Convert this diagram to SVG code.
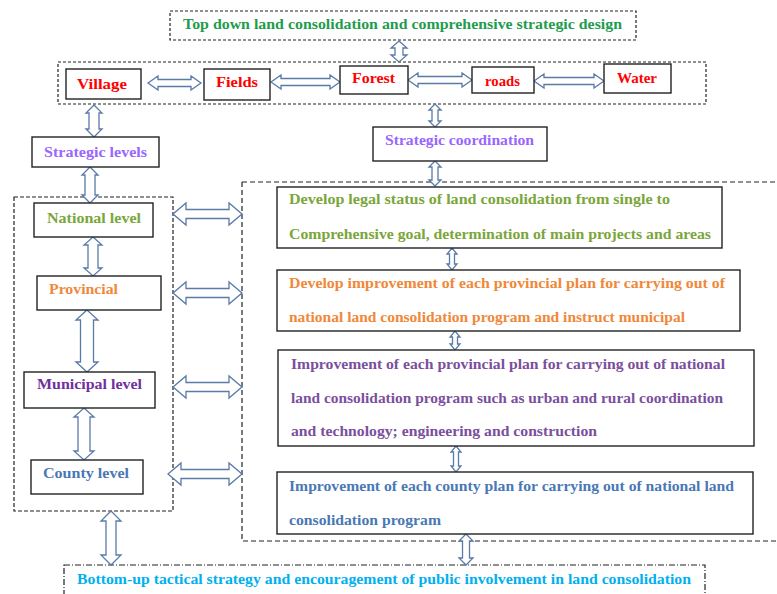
<svg xmlns="http://www.w3.org/2000/svg" width="777" height="594" viewBox="0 0 777 594">
<style>
.bx{fill:#fff;stroke:#222;stroke-width:1.4}
.ct{fill:none;stroke:#222;stroke-width:1.2}
.ar{fill:#fff;stroke:#5a7aa8;stroke-width:1.3;stroke-linejoin:miter}
.lb{font-size:14px}
.rt{font-size:14px}
</style>
<rect width="777" height="594" fill="#fff"/>
<g id="containers">
<rect class="ct" x="170" y="11" width="466" height="29" stroke-dasharray="3,2"/>
<rect class="ct" x="58" y="62" width="648" height="42" stroke-dasharray="3,2"/>
<rect class="ct" x="14" y="197" width="159" height="314" stroke-dasharray="4,2"/>
<path class="ct" d="M242 182 H780 M242 182 V541 H780" stroke-dasharray="5,3"/>
<rect class="ct" x="64" y="565" width="641" height="40" stroke-dasharray="6,2,1,2"/>
</g>
<g id="connectors">
<path class="ar" d="M399 41 L407 48 L403 48 L403 55 L407 55 L399 62 L391 55 L395 55 L395 48 L391 48 Z"/>
<path class="ar" d="M94 105 L102 113 L99 113 L99 129 L102 129 L94 137 L86 129 L89 129 L89 113 L86 113 Z"/>
<path class="ar" d="M90 167 L98 175 L95 175 L95 195 L98 195 L90 203 L82 195 L85 195 L85 175 L82 175 Z"/>
<path class="ar" d="M435 104 L441 110 L438 110 L438 121 L441 121 L435 127 L429 121 L432 121 L432 110 L429 110 Z"/>
<path class="ar" d="M435 161 L441 167 L438 167 L438 180 L441 180 L435 186 L429 180 L432 180 L432 167 L429 167 Z"/>
<path class="ar" d="M93 237 L102 245 L98 245 L98 268 L102 268 L93 276 L84 268 L88 268 L88 245 L84 245 Z"/>
<path class="ar" d="M87 310 L98 320 L93.5 320 L93.5 362 L98 362 L87 372 L76 362 L80.5 362 L80.5 320 L76 320 Z"/>
<path class="ar" d="M84 408 L94 417 L90 417 L90 451 L94 451 L84 460 L74 451 L78 451 L78 417 L74 417 Z"/>
<path class="ar" d="M173 214 L186 203 L186 209.5 L229 209.5 L229 203 L242 214 L229 225 L229 218.5 L186 218.5 L186 225 Z"/>
<path class="ar" d="M173 293 L186 282 L186 288.5 L229 288.5 L229 282 L242 293 L229 304 L229 297.5 L186 297.5 L186 304 Z"/>
<path class="ar" d="M173 387 L186 376 L186 382.5 L229 382.5 L229 376 L242 387 L229 398 L229 391.5 L186 391.5 L186 398 Z"/>
<path class="ar" d="M168 474 L181 463 L181 469.5 L229 469.5 L229 463 L242 474 L229 485 L229 478.5 L181 478.5 L181 485 Z"/>
<path class="ar" d="M148 83 L158 76 L158 79.5 L191 79.5 L191 76 L201 83 L191 90 L191 86.5 L158 86.5 L158 90 Z"/>
<path class="ar" d="M271 82 L281 75 L281 78.5 L330 78.5 L330 75 L340 82 L330 89 L330 85.5 L281 85.5 L281 89 Z"/>
<path class="ar" d="M408 80 L418 73 L418 76.5 L462 76.5 L462 73 L472 80 L462 87 L462 83.5 L418 83.5 L418 87 Z"/>
<path class="ar" d="M534 81 L544 74 L544 77.5 L594 77.5 L594 74 L604 81 L594 88 L594 84.5 L544 84.5 L544 88 Z"/>
<path class="ar" d="M452 248 L457 254 L454.5 254 L454.5 264 L457 264 L452 270 L447 264 L449.5 264 L449.5 254 L447 254 Z"/>
<path class="ar" d="M455 331 L460 337 L457.5 337 L457.5 344 L460 344 L455 350 L450 344 L452.5 344 L452.5 337 L450 337 Z"/>
<path class="ar" d="M456 446 L461 452 L458.5 452 L458.5 466 L461 466 L456 472 L451 466 L453.5 466 L453.5 452 L451 452 Z"/>
<path class="ar" d="M111 511 L121 521 L116 521 L116 555 L121 555 L111 565 L101 555 L106 555 L106 521 L101 521 Z"/>
<path class="ar" d="M466 534 L473 541 L469.5 541 L469.5 558 L473 558 L466 565 L459 558 L462.5 558 L462.5 541 L459 541 Z"/>
</g>
<g font-family="Liberation Serif, DejaVu Serif, serif" font-weight="bold">
<g id="title">
<text x="183" y="29" font-size="15" fill="#1f9c4e" textLength="439" lengthAdjust="spacingAndGlyphs">Top down land consolidation and comprehensive strategic design</text>
</g>
<g id="village">
<rect class="bx" x="66" y="69" width="75" height="30"/>
<text class="lb" x="77" y="89" fill="#f00" textLength="50" lengthAdjust="spacingAndGlyphs">Village</text>
</g>
<g id="fields">
<rect class="bx" x="204" y="69" width="66" height="31"/>
<text class="lb" x="216" y="87" fill="#f00" textLength="42" lengthAdjust="spacingAndGlyphs">Fields</text>
</g>
<g id="forest">
<rect class="bx" x="340" y="66" width="68" height="28"/>
<text class="lb" x="352" y="83" fill="#f00" textLength="43" lengthAdjust="spacingAndGlyphs">Forest</text>
</g>
<g id="roads">
<rect class="bx" x="472" y="67" width="62" height="26"/>
<text class="lb" x="485" y="86" fill="#f00" textLength="35" lengthAdjust="spacingAndGlyphs">roads</text>
</g>
<g id="water">
<rect class="bx" x="604" y="64" width="67" height="29"/>
<text class="lb" x="617" y="83" fill="#f00" textLength="40" lengthAdjust="spacingAndGlyphs">Water</text>
</g>
<g id="strategic-levels">
<rect class="bx" x="32" y="137" width="127" height="30"/>
<text class="lb" x="44" y="157" fill="#9966ff" textLength="103" lengthAdjust="spacingAndGlyphs">Strategic levels</text>
</g>
<g id="strategic-coordination">
<rect class="bx" x="373" y="127" width="174" height="34"/>
<text class="lb" x="385" y="145" fill="#9966ff" textLength="149" lengthAdjust="spacingAndGlyphs">Strategic coordination</text>
</g>
<g id="national">
<rect class="bx" x="34" y="203" width="119" height="34"/>
<text class="lb" x="47" y="223" fill="#7aa63a" textLength="94" lengthAdjust="spacingAndGlyphs">National level</text>
</g>
<g id="provincial">
<rect class="bx" x="37" y="276" width="124" height="34"/>
<text class="lb" x="49" y="294" fill="#f0883a" textLength="69" lengthAdjust="spacingAndGlyphs">Provincial</text>
</g>
<g id="municipal">
<rect class="bx" x="24" y="372" width="131" height="36"/>
<text class="lb" x="37" y="389" fill="#7030a0" textLength="105" lengthAdjust="spacingAndGlyphs">Municipal level</text>
</g>
<g id="county">
<rect class="bx" x="31" y="460" width="112" height="34"/>
<text class="lb" x="43" y="478" fill="#4a78b5" textLength="86" lengthAdjust="spacingAndGlyphs">County level</text>
</g>
<g id="box-national">
<rect class="bx" x="277" y="187" width="445" height="61"/>
<text class="rt" x="289" y="204" fill="#7aa63a" textLength="381" lengthAdjust="spacingAndGlyphs">Develop legal status of land consolidation from single to</text>
<text class="rt" x="289" y="239" fill="#7aa63a" textLength="422" lengthAdjust="spacingAndGlyphs">Comprehensive goal, determination of main projects and areas</text>
</g>
<g id="box-provincial">
<rect class="bx" x="277" y="270" width="463" height="61"/>
<text class="rt" x="289" y="288" fill="#f0883a" textLength="436" lengthAdjust="spacingAndGlyphs">Develop improvement of each provincial plan for carrying out of</text>
<text class="rt" x="289" y="322" fill="#f0883a" textLength="396" lengthAdjust="spacingAndGlyphs">national land consolidation program and instruct municipal</text>
</g>
<g id="box-municipal">
<rect class="bx" x="278" y="350" width="476" height="96"/>
<text class="rt" x="291" y="369" fill="#7b4f9d" textLength="434" lengthAdjust="spacingAndGlyphs">Improvement of each provincial plan for carrying out of national</text>
<text class="rt" x="291" y="403" fill="#7b4f9d" textLength="432" lengthAdjust="spacingAndGlyphs">land consolidation program such as urban and rural coordination</text>
<text class="rt" x="291" y="436" fill="#7b4f9d" textLength="306" lengthAdjust="spacingAndGlyphs">and technology; engineering and construction</text>
</g>
<g id="box-county">
<rect class="bx" x="277" y="472" width="476" height="62"/>
<text class="rt" x="289" y="491" fill="#4a78b5" textLength="445" lengthAdjust="spacingAndGlyphs">Improvement of each county plan for carrying out of national land</text>
<text class="rt" x="289" y="525" fill="#4a78b5" textLength="152" lengthAdjust="spacingAndGlyphs">consolidation program</text>
</g>
<g id="bottom">
<text x="77" y="584" font-size="14" fill="#00b0f0" textLength="614" lengthAdjust="spacingAndGlyphs">Bottom-up tactical strategy and encouragement of public involvement in land consolidation</text>
</g>
</g>
</svg>
